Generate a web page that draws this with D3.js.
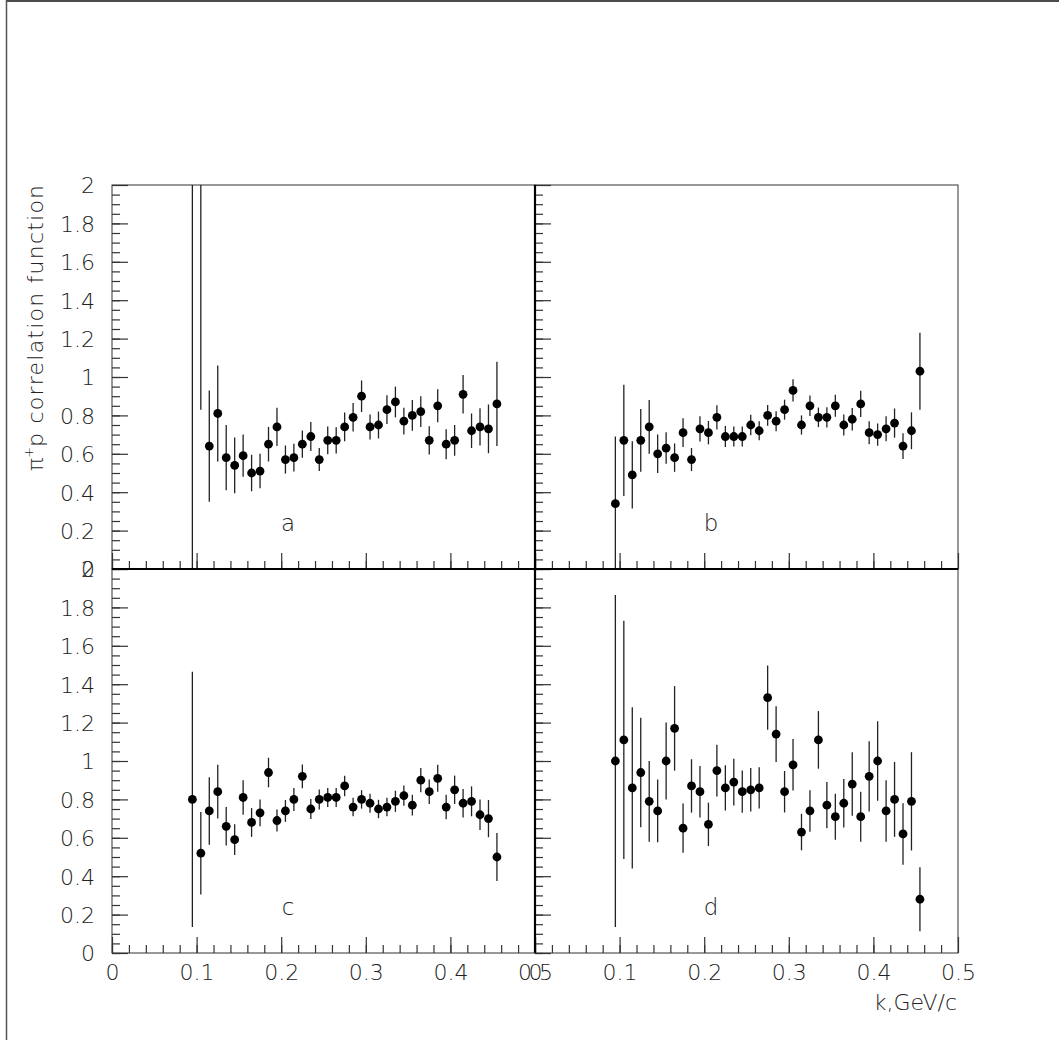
<!DOCTYPE html>
<html>
<head>
<meta charset="utf-8">
<script src="https://cdn.jsdelivr.net/npm/d3@7"></script>
<style>
  body { margin: 0; background: #fff; }
  svg { display: block; }
  text { font-family: "DejaVu Sans", "Liberation Sans", sans-serif; font-weight: 300; fill: #222; }
</style>
</head>
<body>
<svg id="chart"></svg>
<script>
// k bins (GeV/c), shared by all four panels
var kValues = [0.095, 0.105, 0.115, 0.125, 0.135, 0.145, 0.155, 0.165, 0.175, 0.185,
               0.195, 0.205, 0.215, 0.225, 0.235, 0.245, 0.255, 0.265, 0.275, 0.285,
               0.295, 0.305, 0.315, 0.325, 0.335, 0.345, 0.355, 0.365, 0.375, 0.385,
               0.395, 0.405, 0.415, 0.425, 0.435, 0.445, 0.455]

// panel a (first two bins are off scale)
var aVal = [2.6, 2.3, 0.64, 0.81, 0.58, 0.54, 0.59, 0.50, 0.51, 0.65, 0.74, 0.57, 0.58, 0.65, 0.69, 0.57, 0.67, 0.67, 0.74, 0.79,
            0.90, 0.74, 0.75, 0.83, 0.87, 0.77, 0.80, 0.82, 0.67, 0.85, 0.65, 0.67, 0.91, 0.72, 0.74, 0.73, 0.86]
var aErr = [2.6, 1.47, 0.29, 0.25, 0.17, 0.145, 0.11, 0.095, 0.09, 0.09, 0.10, 0.073, 0.072, 0.071, 0.075, 0.06, 0.072, 0.068, 0.075, 0.074,
            0.082, 0.065, 0.07, 0.075, 0.08, 0.07, 0.08, 0.08, 0.073, 0.086, 0.078, 0.08, 0.10, 0.09, 0.097, 0.127, 0.22]

// panel b
var bVal = [0.34, 0.67, 0.49, 0.67, 0.74, 0.60, 0.63, 0.58, 0.71, 0.57, 0.73, 0.71, 0.79, 0.69, 0.69, 0.69, 0.75, 0.72, 0.80, 0.77,
            0.83, 0.93, 0.75, 0.85, 0.79, 0.79, 0.85, 0.75, 0.78, 0.86, 0.71, 0.70, 0.73, 0.76, 0.64, 0.72, 1.03]
var bErr = [0.35, 0.29, 0.175, 0.163, 0.14, 0.10, 0.082, 0.074, 0.075, 0.06, 0.066, 0.061, 0.063, 0.055, 0.052, 0.052, 0.053, 0.05, 0.054, 0.052,
            0.052, 0.058, 0.05, 0.053, 0.051, 0.053, 0.057, 0.055, 0.058, 0.068, 0.06, 0.058, 0.065, 0.076, 0.067, 0.096, 0.20]

// panel c
var cVal = [0.80, 0.52, 0.74, 0.84, 0.66, 0.59, 0.81, 0.68, 0.73, 0.94, 0.69, 0.74, 0.80, 0.92, 0.75, 0.80, 0.81, 0.81, 0.87, 0.76,
            0.80, 0.78, 0.75, 0.76, 0.79, 0.82, 0.77, 0.90, 0.84, 0.91, 0.76, 0.85, 0.78, 0.79, 0.72, 0.70, 0.50]
var cErr = [0.665, 0.215, 0.176, 0.14, 0.10, 0.08, 0.09, 0.075, 0.07, 0.077, 0.057, 0.057, 0.06, 0.062, 0.052, 0.052, 0.05, 0.05, 0.053, 0.048,
            0.048, 0.049, 0.048, 0.048, 0.055, 0.053, 0.054, 0.063, 0.064, 0.07, 0.064, 0.074, 0.074, 0.078, 0.08, 0.097, 0.125]

// panel d
var dVal = [1.00, 1.11, 0.86, 0.94, 0.79, 0.74, 1.00, 1.17, 0.65, 0.87, 0.84, 0.67, 0.95, 0.86, 0.89, 0.84, 0.85, 0.86, 1.33, 1.14,
            0.84, 0.98, 0.63, 0.74, 1.11, 0.77, 0.71, 0.78, 0.88, 0.71, 0.92, 1.00, 0.74, 0.80, 0.62, 0.79, 0.28]
var dErr = [0.865, 0.62, 0.42, 0.285, 0.21, 0.163, 0.20, 0.22, 0.128, 0.139, 0.134, 0.113, 0.135, 0.118, 0.122, 0.11, 0.113, 0.107, 0.167, 0.145,
            0.108, 0.134, 0.095, 0.108, 0.15, 0.12, 0.12, 0.126, 0.165, 0.13, 0.183, 0.207, 0.16, 0.195, 0.16, 0.256, 0.167]

var panelNames = ["a", "b", "c", "d"]
var xTicks = [0, 0.1, 0.2, 0.3, 0.4, 0.5]
var yTicks = [0, 0.2, 0.4, 0.6, 0.8, 1, 1.2, 1.4, 1.6, 1.8, 2]

var dimensions = {
    width: 1059,
    height: 1057,
    left: 112, mid: 535, right: 958,
    top: 185, middle: 569, bottom: 953
}

var svg = d3.select("#chart")
            .attr("width", dimensions.width)
            .attr("height", dimensions.height)

// page border
svg.append("line").attr("x1", 6).attr("x2", 1059).attr("y1", 1).attr("y2", 1).attr("stroke", "#111").attr("stroke-width", 1.5)
svg.append("line").attr("x1", 6.5).attr("x2", 6.5).attr("y1", 0).attr("y2", 1040).attr("stroke", "#555").attr("stroke-width", 1.5)

var series = [[aVal, aErr], [bVal, bErr], [cVal, cErr], [dVal, dErr]]
var fmt = d3.format("~g")

series.forEach(function(s, i) {
    var col = i % 2, row = Math.floor(i / 2)
    var xs = d3.scaleLinear().domain([0, 0.5])
               .range(col ? [dimensions.mid, dimensions.right] : [dimensions.left, dimensions.mid])
    var ys = d3.scaleLinear().domain([0, 2])
               .range(row ? [dimensions.bottom, dimensions.middle] : [dimensions.middle, dimensions.top])

    var g = svg.append("g")

    g.append("clipPath").attr("id", "clip" + i)
     .append("rect")
     .attr("x", xs.range()[0]).attr("y", ys.range()[1])
     .attr("width", xs.range()[1] - xs.range()[0])
     .attr("height", ys.range()[0] - ys.range()[1])

    g.append("rect")
     .attr("x", xs.range()[0]).attr("y", ys.range()[1])
     .attr("width", xs.range()[1] - xs.range()[0])
     .attr("height", ys.range()[0] - ys.range()[1])
     .attr("fill", "none").attr("stroke", "#333").attr("stroke-width", 1)

    // x ticks (inside, pointing up)
    var xMajor = d3.axisBottom(xs).tickValues(xTicks).tickSize(-16).tickSizeOuter(0).tickPadding(11)
                   .tickFormat(row ? fmt : "")
    var xMinor = d3.axisBottom(xs).tickValues(d3.range(0, 0.5, 0.02)).tickSize(-8).tickSizeOuter(0).tickFormat("")
    g.append("g").attr("transform", "translate(0," + ys.range()[0] + ")").call(xMinor)
    g.append("g").attr("class", "xlab").attr("transform", "translate(0," + ys.range()[0] + ")").call(xMajor)

    // y ticks (inside, pointing right)
    var yMajor = d3.axisLeft(ys).tickValues(yTicks).tickSize(-16).tickSizeOuter(0).tickPadding(17)
                   .tickFormat(col ? "" : fmt)
    var yMinor = d3.axisLeft(ys).tickValues(d3.range(0, 2, 0.05)).tickSize(-8).tickSizeOuter(0).tickFormat("")
    g.append("g").attr("transform", "translate(" + xs.range()[0] + ",0)").call(yMinor)
    g.append("g").attr("class", "ylab").attr("transform", "translate(" + xs.range()[0] + ",0)").call(yMajor)

    g.selectAll(".domain").remove()
    g.selectAll(".tick line").attr("stroke", "#333").attr("stroke-width", 1.2)
    g.selectAll(".tick text").style("font-size", "22px").attr("fill", "#222")
     .style("font-family", "'DejaVu Sans', 'Liberation Sans', sans-serif").style("font-weight", 300)
    g.selectAll(".ylab .tick text").attr("dy", "0.36em")

    var pts = kValues.map(function(k, j) { return { k: k, v: s[0][j], e: s[1][j] } })

    var marks = g.append("g").attr("clip-path", "url(#clip" + i + ")")
    marks.selectAll("line.err").data(pts).enter().append("line")
         .attr("class", "err")
         .attr("x1", d => xs(d.k)).attr("x2", d => xs(d.k))
         .attr("y1", d => ys(d.v - d.e)).attr("y2", d => ys(d.v + d.e))
         .attr("stroke", "#222").attr("stroke-width", 1.3)
    marks.selectAll("circle").data(pts).enter().append("circle")
         .attr("cx", d => xs(d.k)).attr("cy", d => ys(d.v)).attr("r", 4.4)
         .attr("fill", "#000")

    g.append("text")
     .attr("x", xs(0.208)).attr("y", ys(0.2))
     .attr("text-anchor", "middle")
     .style("font-size", "23px")
     .text(panelNames[i])
})

// shared inner borders look heavier
svg.append("line").attr("x1", dimensions.left).attr("x2", dimensions.right)
   .attr("y1", dimensions.middle).attr("y2", dimensions.middle).attr("stroke", "#000").attr("stroke-width", 2.2)
svg.append("line").attr("x1", dimensions.mid).attr("x2", dimensions.mid)
   .attr("y1", dimensions.top).attr("y2", dimensions.bottom).attr("stroke", "#000").attr("stroke-width", 2.2)

// axis titles
var yTitle = svg.append("text")
   .attr("transform", "translate(43," + 328 + ") rotate(-90)")
   .attr("text-anchor", "middle")
   .style("font-size", "22px")
yTitle.append("tspan").text("π")
yTitle.append("tspan").attr("dy", -10).style("font-size", "13px").text("+")
yTitle.append("tspan").attr("dy", 10).attr("textLength", 262).attr("lengthAdjust", "spacing")
      .text("p correlation function")

svg.append("text")
   .attr("x", 957).attr("y", 1010)
   .attr("text-anchor", "end")
   .style("font-size", "22px")
   .text("k,GeV/c")
</script>
</body>
</html>
